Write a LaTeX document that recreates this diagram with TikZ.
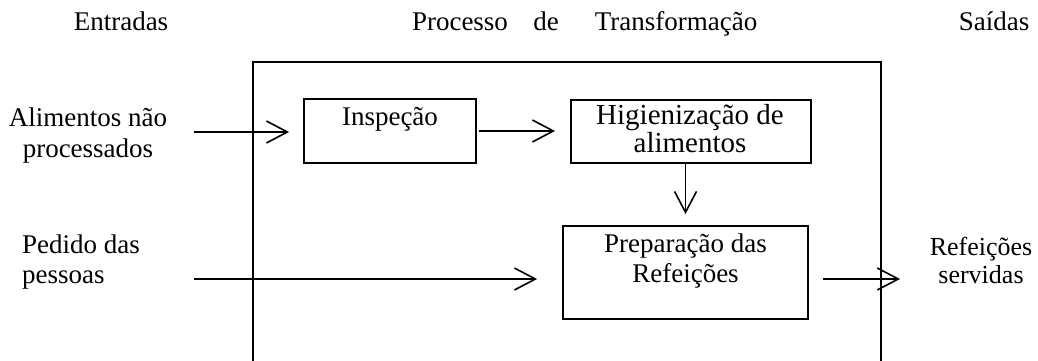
\documentclass[tikz,border=0pt]{standalone}
\usepackage{fontspec}
\setmainfont{Liberation Serif}
\usetikzlibrary{arrows.meta}
\tikzset{
  txt/.style={inner sep=0pt, anchor=base, font=\fontsize{27}{30}\selectfont},
  bigtxt/.style={txt, font=\fontsize{29}{30}\selectfont},
  smalltxt/.style={txt, font=\fontsize{26}{30}\selectfont},
  procbox/.style={draw, line width=1.8pt, inner sep=0pt},
  arr/.style={line width=1.8pt, -{Straight Barb[length=21pt,width=22pt,line width=1.6pt]}},
  frame/.style={line width=2pt},
}
\begin{document}
\begin{tikzpicture}[x=1pt,y=-1pt]
\useasboundingbox (0,0) rectangle (1038,361);
% frame of the transformation process
\coordinate (fbl) at (252.7,361);
\coordinate (ftl) at (252.7,62);
\coordinate (ftr) at (881,62);
\coordinate (fbr) at (881,361);
\draw[frame] (fbl) -- (ftl) -- (ftr) -- (fbr);
% headers
\node[txt] (tent) at (121,31) {Entradas};
\node[txt] (tpro) at (460,31) {Processo};
\node[txt] (tde) at (546,31) {de};
\node[txt] (ttra) at (676,31) {Transformação};
\node[txt] (tsai) at (994,31) {Saídas};
% inputs
\node[txt] (ali1) at (88,126) {Alimentos não};
\node[txt] (ali2) at (88,157) {processados};
\node[txt, anchor=base west] (ped1) at (22,253) {Pedido das};
\node[txt, anchor=base west] (ped2) at (22,283) {pessoas};
% boxes
\node[procbox, minimum width=172pt, minimum height=64pt] (insp) at (390,131) {};
\node[procbox, minimum width=240pt, minimum height=63pt] (higi) at (691,131.5) {};
\node[procbox, minimum width=245pt, minimum height=93pt] (prep) at (685.5,272.5) {};
\node[txt] (inspt) at (390,125) {Inspeção};
\node[bigtxt] (higi1) at (690,124) {Higienização de};
\node[bigtxt] (higi2) at (690,152) {alimentos};
\node[txt] (prep1) at (685.5,252) {Preparação das};
\node[txt] (prep2) at (685.5,282) {Refeições};
% output
\node[smalltxt] (ref1) at (981,255) {Refeições};
\node[smalltxt] (ref2) at (981,283) {servidas};
% connectors
\coordinate (in1) at (194,132);
\coordinate (in2) at (194,279);
\coordinate (out2) at (900,279);
\draw[arr, shorten >=14pt] (in1) -- (in1 -| insp.west);
\draw[arr, shorten <=2pt, shorten >=15pt] (insp.east) -- (insp.east -| higi.west);
\draw[arr, shorten >=11pt] (higi.south -| prep.north) -- (prep.north);
\draw[arr, shorten >=25pt] (in2) -- (in2 -| prep.west);
\draw[arr, shorten <=14pt] (in2 -| prep.east) -- (out2);
\end{tikzpicture}
\end{document}
